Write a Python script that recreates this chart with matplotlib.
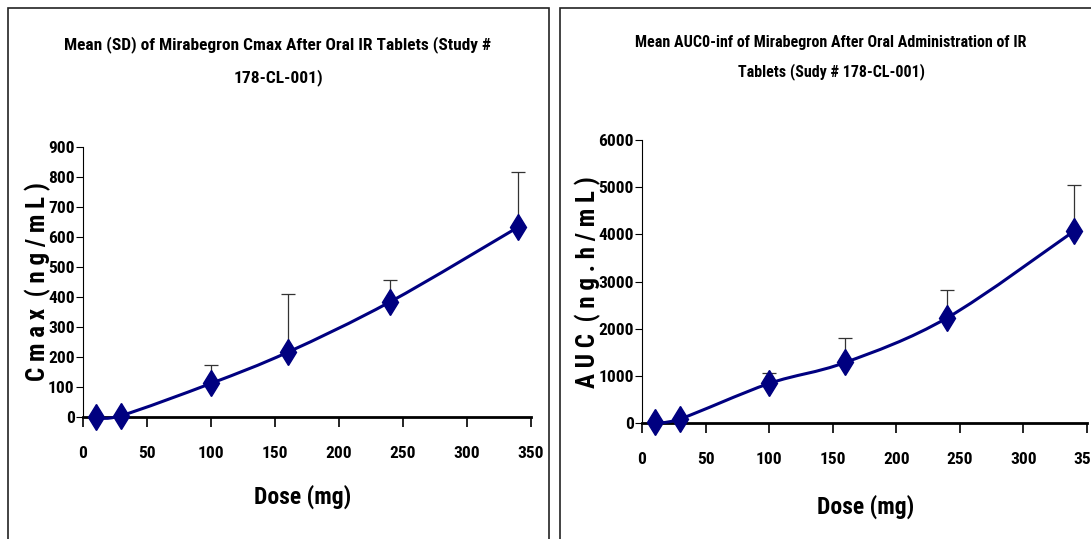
import matplotlib
matplotlib.use("Agg")
import matplotlib.pyplot as plt
import numpy as np
from matplotlib.path import Path
from matplotlib.patches import PathPatch, Rectangle

# dose levels (mg)
dose = [10, 30, 100, 160, 240, 340]

# Cmax mean and mean+SD (ng/mL)
cmax_mean = [0, 5, 112, 216, 384, 633]
cmax_upper = [0, 5, 175, 409, 456, 816]

# AUC0-inf mean and mean+SD (ng.h/mL)
auc_mean = [25, 88, 838, 1285, 2230, 4072]
auc_upper = [25, 88, 1068, 1810, 2815, 5045]

cmax_yticks = list(range(0, 1000, 100))
auc_yticks = list(range(0, 7000, 1000))
xticks = list(range(0, 400, 50))

W, H = 1091, 539
FONT = ["Roboto Condensed", "PT Sans Narrow", "Liberation Sans", "DejaVu Sans"]
NAVY = "#000080"

plt.rcParams["font.family"] = FONT
plt.rcParams["font.weight"] = "bold"

fig = plt.figure(figsize=(W / 100, H / 100), dpi=100)
fig.patch.set_facecolor("white")


def px(x0, y0, x1, y1):
    # pixel box (top-left origin) -> figure fraction rect
    return [x0 / W, 1 - y1 / H, (x1 - x0) / W, (y1 - y0) / H]


def smooth_path(x, y, t=1 / 6):
    pts = np.column_stack([x, y]).astype(float)
    n = len(pts)
    verts = [pts[0]]
    codes = [Path.MOVETO]
    for i in range(n - 1):
        p_prev = pts[i - 1] if i > 0 else pts[i]
        p_next2 = pts[i + 2] if i + 2 < n else pts[i + 1]
        c1 = pts[i] + (pts[i + 1] - p_prev) * t
        c2 = pts[i + 1] - (p_next2 - pts[i]) * t
        verts += [c1, c2, pts[i + 1]]
        codes += [Path.CURVE4] * 3
    return Path(verts, codes)


def panel(rect, means, uppers, yticks, ymax):
    ax = fig.add_axes(rect)
    ax.set_xlim(0, 350)
    ax.set_ylim(0, ymax)
    for s in ("top", "right"):
        ax.spines[s].set_visible(False)
    ax.spines["left"].set_linewidth(0.8)
    ax.spines["bottom"].set_linewidth(2.0)
    ax.set_xticks(xticks)
    ax.set_yticks(yticks)
    ax.tick_params(axis="y", direction="out", length=5, width=0.8, pad=1,
                   labelsize=12.5)
    ax.tick_params(axis="x", direction="out", length=7, width=1.2, pad=14,
                   labelsize=12.5)
    for lab in ax.get_xticklabels() + ax.get_yticklabels():
        lab.set_fontweight("bold")

    # upper SD whiskers
    err = np.array(uppers) - np.array(means)
    ax.errorbar(dose, means, yerr=[np.zeros_like(err), err], fmt="none",
                ecolor="#333333", elinewidth=0.9, capsize=5, capthick=0.9,
                zorder=2)
    ax.add_patch(PathPatch(smooth_path(dose, means), facecolor="none",
                           edgecolor=NAVY, lw=2.2, zorder=3,
                           clip_on=False))
    ax.plot(dose, means, linestyle="none", marker="d", ms=13, color=NAVY,
            zorder=4, clip_on=False)
    return ax


panel(px(83, 147, 531, 417), cmax_mean, cmax_upper, cmax_yticks, 900)
panel(px(642, 140, 1087, 423), auc_mean, auc_upper, auc_yticks, 6000)

# panel frames
fig.patches.append(Rectangle((8 / W, -0.05), 541 / W, 1 - 8 / H + 0.05,
                             transform=fig.transFigure, fill=False,
                             edgecolor="#222222", lw=1.2))
fig.patches.append(Rectangle((560 / W, -0.05), 600 / W, 1 - 8 / H + 0.05,
                             transform=fig.transFigure, fill=False,
                             edgecolor="#222222", lw=1.2))


def ftext(x, y, s, **kw):
    fig.text(x / W, 1 - y / H, s, ha="center", va="center",
             fontweight="bold", **kw)


ftext(278, 45, "Mean (SD) of Mirabegron Cmax After Oral IR Tablets (Study #",
      fontsize=12.5)
ftext(278, 78, "178-CL-001)", fontsize=12.5)
ftext(831, 42, "Mean AUC0-inf of Mirabegron After Oral Administration of IR",
      fontsize=11.5)
ftext(831, 72, "Tablets (Sudy # 178-CL-001)", fontsize=11.5)

ftext(303, 497, "Dose (mg)", fontsize=17)
ftext(866, 507, "Dose (mg)", fontsize=17)

ftext(38, 282, "C m a x  ( n g / m L )", fontsize=18, rotation=90)
ftext(588, 282, "A U C  ( n g . h / m L )", fontsize=18, rotation=90)

fig.savefig("out.png", dpi=100)
